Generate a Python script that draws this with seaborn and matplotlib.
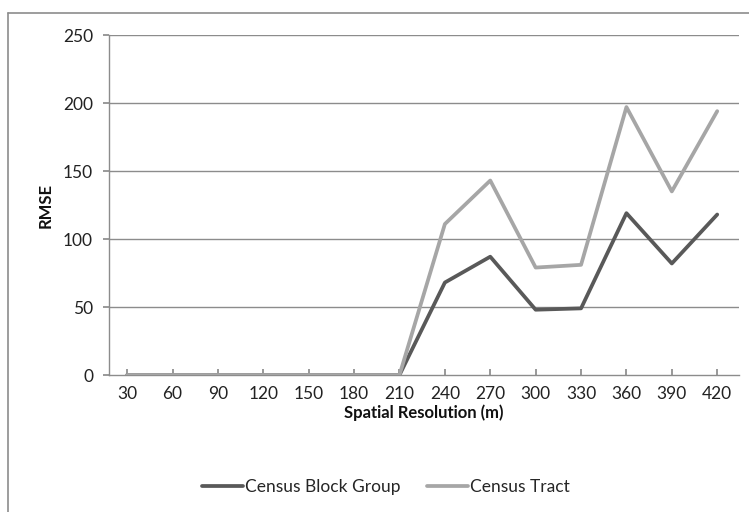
import matplotlib
matplotlib.use("Agg")
import matplotlib.pyplot as plt
import seaborn as sns
import pandas as pd
from matplotlib.lines import Line2D

resolutions = ["30", "60", "90", "120", "150", "180", "210", "240", "270", "300", "330", "360", "390", "420"]
block_group = [0, 0, 0, 0, 0, 0, 0, 68, 87, 48, 49, 119, 82, 118]
tract = [0, 0, 0, 0, 0, 0, 0, 111, 143, 79, 81, 197, 135, 194]
series_names = ["Census Block Group", "Census Tract"]
colors = ["#595959", "#A6A6A6"]

sns.set_theme(style="white")
plt.rcParams['font.family'] = ['Lato', 'DejaVu Sans']

df = pd.DataFrame({
    "pos": list(range(len(resolutions))) * 2,
    "RMSE": block_group + tract,
    "series": [series_names[0]] * len(resolutions) + [series_names[1]] * len(resolutions),
})

fig = plt.figure(figsize=(7.49, 5.12), dpi=100)
ax = fig.add_axes([109 / 749, 1 - 375 / 512, (739 - 109) / 749, (375 - 35) / 512])

sns.lineplot(data=df, x="pos", y="RMSE", hue="series", palette=colors,
             hue_order=series_names, linewidth=2.7, ax=ax, legend=False, zorder=3)

ax.set_ylim(0, 250)
ax.set_xlim(-0.4, 13.48)
ax.set_yticks([0, 50, 100, 150, 200, 250])
ax.set_xticks(range(len(resolutions)))
ax.set_xticklabels(resolutions)
for y in [50, 100, 150, 200, 250]:
    ax.axhline(y, color="#8c8c8c", linewidth=1.0, zorder=1)

for s in ["top", "right"]:
    ax.spines[s].set_visible(False)
for s in ["left", "bottom"]:
    ax.spines[s].set_color("#8c8c8c")
    ax.spines[s].set_linewidth(1.0)

ax.tick_params(axis="x", which="both", bottom=True, length=4, color="#8c8c8c",
               labelsize=12.5, labelcolor="#222222", pad=8, direction="in")
ax.tick_params(axis="y", left=True, length=4, color="#8c8c8c", labelsize=12.5,
               labelcolor="#222222", pad=7.5, direction="out")

ax.set_xlabel("Spatial Resolution (m)", fontsize=12, fontweight="bold", labelpad=1.5, color="#111111")
ax.set_ylabel("RMSE", fontsize=12, fontweight="bold", labelpad=6.5, color="#111111")

handles = [Line2D([0], [0], color=c, linewidth=2.7) for c in colors]
fig.legend(handles, series_names, loc="center", bbox_to_anchor=(0.515, 1 - 487 / 512),
           ncol=2, frameon=False, fontsize=12.5, handlelength=2.4, handletextpad=0.1,
           columnspacing=1.5)

# outer chart border (left and top visible)
fig.add_artist(Line2D([8 / 749, 8 / 749], [0, 1 - 13 / 512], transform=fig.transFigure,
                      color="#8c8c8c", linewidth=1.2))
fig.add_artist(Line2D([8 / 749, 1], [1 - 13 / 512, 1 - 13 / 512], transform=fig.transFigure,
                      color="#8c8c8c", linewidth=1.2))

fig.savefig("out.png", dpi=100)
